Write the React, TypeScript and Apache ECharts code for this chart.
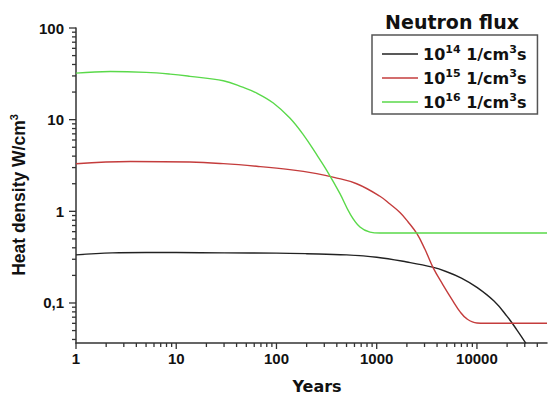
import React, { useEffect, useRef } from 'react';
import * as echarts from 'echarts';

const seriesNames = ['10^14 1/cm3s', '10^15 1/cm3s', '10^16 1/cm3s'];
const legendRich = [
  '{b|10}{s|14}{b| 1/cm}{s|3}{b|s}',
  '{b|10}{s|15}{b| 1/cm}{s|3}{b|s}',
  '{b|10}{s|16}{b| 1/cm}{s|3}{b|s}',
];
const seriesColors = ['#222222', '#c43c3c', '#5ad94a'];

const blackYears = [1, 2.3, 5, 10, 30, 100, 200, 500, 1000, 2000, 3600, 5000, 7000, 10000, 14800, 19900, 25000, 30800];
const blackHeat = [0.335, 0.352, 0.355, 0.355, 0.352, 0.35, 0.345, 0.335, 0.316, 0.28, 0.246, 0.219, 0.187, 0.148, 0.105, 0.072, 0.051, 0.0363];

const redYears = [1, 3.5, 13.7, 29.5, 63.5, 136, 252, 375, 631, 1077, 1356, 1706, 2050, 2520, 3030, 3640, 4580, 5770, 6800, 7950, 10000, 15000, 50000];
const redHeat = [3.3, 3.5, 3.45, 3.31, 3.1, 2.85, 2.58, 2.35, 2.0, 1.46, 1.2, 0.97, 0.77, 0.57, 0.385, 0.245, 0.158, 0.105, 0.08, 0.067, 0.0605, 0.06, 0.06];

const greenYears = [1, 2.2, 5, 8.7, 13.7, 29.5, 46, 63.5, 93, 136, 185, 252, 317, 430, 541, 681, 857, 1077, 50000];
const greenHeat = [32.2, 33.5, 32.8, 31.4, 29.7, 26.6, 22.6, 19.5, 15.2, 10.4, 6.86, 4.15, 2.8, 1.56, 0.944, 0.674, 0.594, 0.58, 0.58];

const xMajor = [1, 10, 100, 1000, 10000];
const xMinor = [2, 3, 4, 5, 6, 7, 8, 9, 20, 30, 40, 50, 60, 70, 80, 90, 200, 300, 400, 500, 600, 700, 800, 900, 2000, 3000, 4000, 5000, 6000, 7000, 8000, 9000, 20000, 30000, 40000];
const yMajor = [0.1, 1, 10, 100];
const yMinor = [0.04, 0.05, 0.06, 0.07, 0.08, 0.09, 0.2, 0.3, 0.4, 0.5, 0.6, 0.7, 0.8, 0.9, 2, 3, 4, 5, 6, 7, 8, 9, 20, 30, 40, 50, 60, 70, 80, 90];

const X_MIN = 1;
const X_MAX = 50000;
const Y_MIN = 0.0366;
const Y_MAX = 100;

const AXIS_COLOR = '#333333';
const LABEL_FONT = '"Liberation Sans", Arial, sans-serif';
const WIDE_FONT = '"DejaVu Sans", sans-serif';

export default function App() {
  const ref = useRef<HTMLDivElement>(null);
  useEffect(() => {
    const chart = echarts.init(ref.current!, null, { renderer: 'svg' });
    const xs = [blackYears, redYears, greenYears];
    const ys = [blackHeat, redHeat, greenHeat];

    const textGraphics: any[] = [
      {
        type: 'text',
        id: 'title',
        x: 452,
        y: 22,
        style: {
          text: 'Neutron flux',
          fontFamily: WIDE_FONT,
          fontWeight: 'bold',
          fontSize: 19,
          fill: '#111',
          align: 'center',
          verticalAlign: 'middle',
        },
      },
      {
        type: 'text',
        id: 'yname',
        x: 19,
        y: 195,
        rotation: Math.PI / 2,
        style: {
          text: '{a|Heat density W/cm}{s|3}',
          align: 'center',
          verticalAlign: 'middle',
          rich: {
            a: { fontFamily: LABEL_FONT, fontWeight: 'bold', fontSize: 17.5, fill: '#111', lineHeight: 22 },
            s: { fontFamily: LABEL_FONT, fontWeight: 'bold', fontSize: 11, fill: '#111', lineHeight: 22, verticalAlign: 'top' },
          },
        },
      },
      {
        type: 'text',
        id: 'xname',
        x: 317,
        y: 394,
        style: {
          text: 'Years',
          fontFamily: WIDE_FONT,
          fontWeight: 'bold',
          fontSize: 16,
          fill: '#111',
          align: 'center',
          verticalAlign: 'bottom',
        },
      },
    ];

    const option: any = {
      animation: false,
      grid: { left: 76, right: 1, top: 28, bottom: 51, containLabel: false },
      xAxis: {
        type: 'log',
        logBase: 10,
        min: X_MIN,
        max: X_MAX,
        axisLine: { show: true, lineStyle: { color: AXIS_COLOR, width: 1.5 } },
        axisTick: { show: false },
        axisLabel: {
          customValues: xMajor,
          fontFamily: LABEL_FONT,
          fontWeight: 'bold',
          fontSize: 15,
          color: '#111',
          margin: 8,
          formatter: (v: number) => String(Math.round(v)),
        },
        splitLine: { show: false },
      },
      yAxis: {
        type: 'log',
        logBase: 10,
        min: Y_MIN,
        max: Y_MAX,
        axisLine: { show: true, lineStyle: { color: AXIS_COLOR, width: 1.5 } },
        axisTick: { show: false },
        axisLabel: {
          customValues: yMajor,
          fontFamily: LABEL_FONT,
          fontWeight: 'bold',
          fontSize: 15,
          color: '#111',
          margin: 12,
          formatter: (v: number) => String(Math.round(v * 10) / 10).replace('.', ','),
        },
        splitLine: { show: false },
      },
      legend: {
        left: 372,
        top: 35,
        orient: 'vertical',
        data: seriesNames.map((n) => ({ name: n, icon: 'rect' })),
        itemWidth: 36,
        itemHeight: 1.5,
        itemGap: 6,
        padding: [9, 11, 4, 10],
        borderColor: '#555',
        borderWidth: 1.5,
        backgroundColor: '#fff',
        formatter: (name: string) => legendRich[seriesNames.indexOf(name)],
        textStyle: {
          rich: {
            b: { fontFamily: WIDE_FONT, fontWeight: 'bold', fontSize: 16, color: '#111', lineHeight: 20 },
            s: { fontFamily: WIDE_FONT, fontWeight: 'bold', fontSize: 11, color: '#111', lineHeight: 20, verticalAlign: 'top' },
          },
        },
      },
      series: seriesNames.map((name, i) => ({
        name,
        type: 'line',
        data: xs[i].map((x, j) => [x, ys[i][j]]),
        showSymbol: false,
        symbol: 'none',
        smooth: 0.4,
        clip: true,
        color: seriesColors[i],
        lineStyle: { color: seriesColors[i], width: 1.4 },
      })),
      graphic: textGraphics,
    };
    chart.setOption(option);

    // Tick marks positioned through the chart's own log scales
    const ticks: any[] = [];
    const addX = (v: number, len: number, k: string) => {
      const p = chart.convertToPixel({ gridIndex: 0 }, [v, Y_MIN]) as number[];
      ticks.push({
        type: 'line',
        id: k,
        silent: true,
        z: 10,
        shape: { x1: p[0], y1: p[1], x2: p[0], y2: p[1] + len },
        style: { stroke: AXIS_COLOR, lineWidth: 1.3 },
      });
    };
    const addY = (v: number, len: number, k: string) => {
      const p = chart.convertToPixel({ gridIndex: 0 }, [X_MIN, v]) as number[];
      ticks.push({
        type: 'line',
        id: k,
        silent: true,
        z: 10,
        shape: { x1: p[0], y1: p[1], x2: p[0] - len, y2: p[1] },
        style: { stroke: AXIS_COLOR, lineWidth: 1.3 },
      });
    };
    xMajor.forEach((v, i) => addX(v, 6, 'xM' + i));
    xMinor.forEach((v, i) => addX(v, 4, 'xm' + i));
    yMajor.forEach((v, i) => addY(v, 7, 'yM' + i));
    yMinor.forEach((v, i) => addY(v, 4, 'ym' + i));
    chart.setOption({ graphic: [...textGraphics, ...ticks] });

    return () => chart.dispose();
  }, []);
  return (
    <div
      ref={ref}
      style={{ width: 548, height: 394, position: 'absolute', left: 0, top: 0, background: '#fff' }}
    />
  );
}
